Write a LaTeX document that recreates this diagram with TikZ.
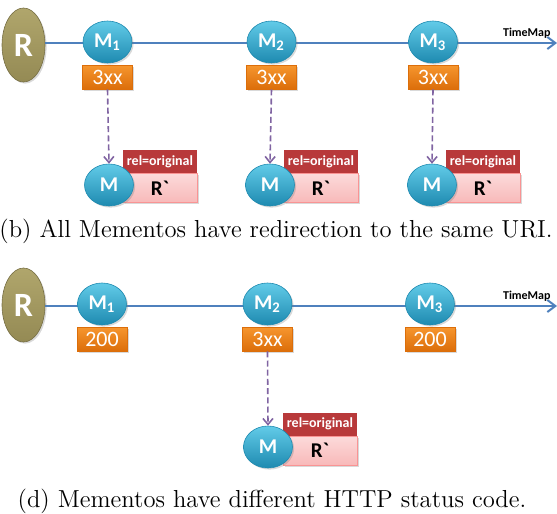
\documentclass[tikz,border=0pt]{standalone}
\usepackage{fontspec}
\newfontfamily\carlfont{Carlito}
\usetikzlibrary{shapes.geometric,arrows.meta,shadows}
\definecolor{olive}{HTML}{948A54}
\definecolor{olivelt}{HTML}{B0A66C}
\definecolor{mblue}{HTML}{2E9EC4}
\definecolor{mbluelt}{HTML}{62CBE8}
\definecolor{mbluedk}{HTML}{1E8AB0}
\definecolor{orng}{HTML}{F6962E}
\definecolor{orngdk}{HTML}{DC6E0A}
\definecolor{relred}{HTML}{B8393A}
\definecolor{pinkbox}{HTML}{F8B9B9}
\definecolor{pinklt}{HTML}{FCDADA}
\definecolor{tline}{HTML}{4F81BD}
\definecolor{purp}{HTML}{8064A2}
\tikzset{
  rnode/.style={ellipse,minimum width=21.5pt,minimum height=37pt,inner sep=0pt,
    top color=olivelt,bottom color=olive,draw=olive!80!black,line width=0.3pt,
    drop shadow={opacity=0.3,shadow xshift=0.8pt,shadow yshift=-0.8pt},
    text=white,font=\carlfont\bfseries\fontsize{17}{17}\selectfont},
  mnode/.style={ellipse,minimum width=24.5pt,minimum height=21pt,inner sep=0pt,
    top color=mbluelt,bottom color=mbluedk,draw=mbluedk,line width=0.3pt,
    drop shadow={opacity=0.3,shadow xshift=0.8pt,shadow yshift=-0.8pt},
    text=white,font=\carlfont\bfseries\fontsize{10.5}{10.5}\selectfont},
  codebox/.style={rectangle,minimum width=25pt,minimum height=12pt,inner sep=0pt,
    top color=orng,bottom color=orngdk,draw=orngdk,line width=0.3pt,
    drop shadow={opacity=0.3,shadow xshift=0.8pt,shadow yshift=-0.8pt},
    text=white,font=\carlfont\fontsize{11}{11}\selectfont},
  relbox/.style={rectangle,minimum width=37pt,minimum height=11.5pt,inner sep=0pt,
    fill=relred,text=white,font=\carlfont\bfseries\fontsize{7}{7}\selectfont},
  pbox/.style={rectangle,minimum width=37pt,minimum height=14.5pt,inner sep=0pt,
    top color=pinklt,bottom color=pinkbox,draw=pinkbox!80!red,line width=0.3pt,
    drop shadow={opacity=0.3,shadow xshift=0.8pt,shadow yshift=-0.8pt},
    text=black,font=\carlfont\bfseries\fontsize{10.5}{10.5}\selectfont},
  tl/.style={draw=tline,line width=1pt,-{Straight Barb[length=4pt,width=6pt]}},
  redir/.style={draw=purp,line width=0.8pt,dash pattern=on 3pt off 1.6pt,-{Straight Barb[length=3pt,width=5pt]}},
  tmlabel/.style={font=\carlfont\bfseries\fontsize{6}{6}\selectfont,inner sep=0pt},
  caption/.style={font=\fontsize{12.3}{14}\selectfont,inner sep=0pt,anchor=base}
}
\begin{document}
\begin{tikzpicture}[x=0.5pt,y=-0.5pt]
\useasboundingbox (0,0) rectangle (557,514);
% ---------- top panel ----------
\node[rnode] (R1) at (23.5,45) {R};
\coordinate (E1) at (557,43);
\draw[tl] (R1.east |- 0,43) -- (E1);
\node[tmlabel,anchor=south east] (TM1) at (551,39) {TimeMap};
\node[mnode] (a1) at (107.5,42) {M\textsubscript{1}};
\node[mnode] (a2) at (271.5,42) {M\textsubscript{2}};
\node[mnode] (a3) at (433,42) {M\textsubscript{3}};
\node[codebox] (c1) at (107.5,77) {3xx};
\node[codebox] (c2) at (271.5,77) {3xx};
\node[codebox] (c3) at (433,77) {3xx};
\foreach \i/\x in {1/109,2/270,3/432}{
  \node[relbox] (r\i) at (\x+51,161.5) {rel=original};
  \node[pbox,anchor=north] (p\i) at (r\i.south) {R`};
  \node[mnode] (b\i) at (\x,185) {M};
  \draw[redir] (c\i.south) -- (b\i.north);
}
\node[caption] (cap1) at (276,237) {(b) All Mementos have redirection to the same URI.};
% ---------- bottom panel ----------
\node[rnode] (R2) at (23.5,305) {R};
\coordinate (E2) at (557,306);
\draw[tl] (R2.east |- 0,306) -- (E2);
\node[tmlabel,anchor=south east] (TM2) at (551,302) {TimeMap};
\node[mnode] (d1) at (102,304) {M\textsubscript{1}};
\node[mnode] (d2) at (267.5,304) {M\textsubscript{2}};
\node[mnode] (d3) at (430,304) {M\textsubscript{3}};
\node[codebox] (e1) at (102,339) {200};
\node[codebox] (e2) at (267.5,339) {3xx};
\node[codebox] (e3) at (430,339) {200};
\node[relbox] (r4) at (320,424) {rel=original};
\node[pbox,anchor=north] (p4) at (r4.south) {R`};
\node[mnode] (b4) at (268,447) {M};
\draw[redir] (e2.south) -- (b4.north);
\node[caption] (cap2) at (272,507) {(d) Mementos have different HTTP status code.};
\end{tikzpicture}
\end{document}
